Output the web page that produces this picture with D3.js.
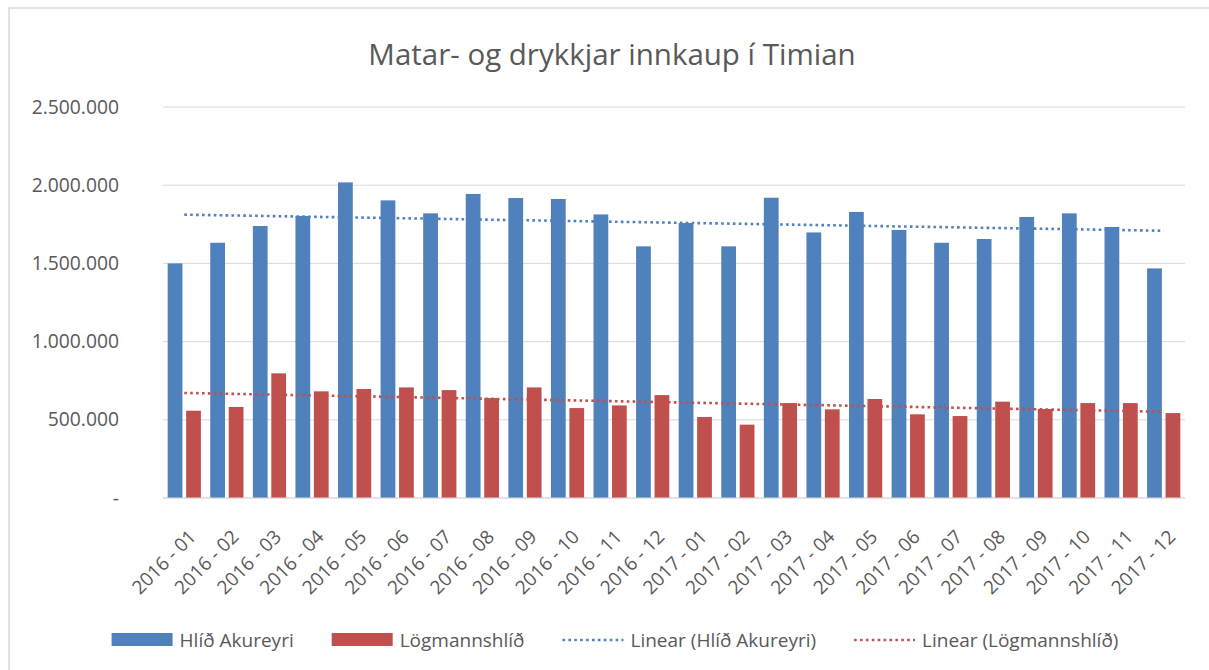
<!DOCTYPE html>
<html>
<head>
<meta charset="utf-8">
<script src="https://cdn.jsdelivr.net/npm/d3@7"></script>
<style>
  body { margin: 0; background: #fff; }
  svg { display: block; font-family: "Open Sans", sans-serif; }
</style>
</head>
<body>
<svg id="chart" width="1209" height="670"></svg>
<script>
// data
const months = ["2016 - 01","2016 - 02","2016 - 03","2016 - 04","2016 - 05","2016 - 06",
                "2016 - 07","2016 - 08","2016 - 09","2016 - 10","2016 - 11","2016 - 12",
                "2017 - 01","2017 - 02","2017 - 03","2017 - 04","2017 - 05","2017 - 06",
                "2017 - 07","2017 - 08","2017 - 09","2017 - 10","2017 - 11","2017 - 12"];
const hlidAkureyri = [1500000,1632000,1739000,1803000,2018000,1903000,1820000,1944000,1918000,1912000,1813000,1609000,
                      1758000,1609000,1920000,1698000,1829000,1714000,1632000,1656000,1797000,1820000,1733000,1468000];
const logmannshlid = [558000,582000,797000,682000,697000,707000,690000,639000,707000,575000,592000,658000,
                      518000,469000,607000,567000,633000,535000,524000,616000,569000,607000,607000,543000];
const yTicks = [0,500000,1000000,1500000,2000000,2500000];
const seriesNames = ["Hlíð Akureyri","Lögmannshlíð"];
const title = "Matar- og drykkjar innkaup í Timian";

const colors = ["#4f81bd","#c0504d"];
const textColor = "#595959";
const gridColor = "#d9d9d9";

const svg = d3.select("#chart");
const margin = {top: 107, right: 24, bottom: 172, left: 163};
const W = 1209, H = 670;
const plotW = W - margin.left - margin.right;
const plotH = H - margin.top - margin.bottom;

// chart frame (only the top and left edges show in the picture)
svg.append("rect")
    .attr("x", 9).attr("y", 8)
    .attr("width", W).attr("height", H)
    .style("fill", "none").style("stroke", gridColor).style("stroke-width", 1.5);

svg.append("text")
    .attr("x", 612).attr("y", 65)
    .attr("text-anchor", "middle")
    .style("font-size", "29.5px").style("fill", textColor)
    .text(title);

let g = svg.append("g").attr("transform", "translate(" + margin.left + "," + margin.top + ")");

let x0 = d3.scaleBand().domain(months).range([0, plotW]).paddingInner(0.22).paddingOuter(0.11);
let x1 = d3.scaleBand().domain([0, 1]).range([0, x0.bandwidth()]).paddingInner(0.2);
let y = d3.scaleLinear().domain([0, 2500000]).range([plotH, 0]);

let locale = d3.formatLocale({decimal: ",", thousands: ".", grouping: [3], currency: ["", ""]});
let fmt = locale.format(",d");

// gridlines
g.append("g").selectAll("line").data(yTicks).enter().append("line")
    .attr("x1", 0).attr("x2", plotW)
    .attr("y1", d => y(d)).attr("y2", d => y(d))
    .style("stroke", gridColor).style("stroke-width", 1);

// y axis labels
let yAxis = d3.axisLeft(y).tickValues(yTicks).tickSize(0).tickPadding(44)
    .tickFormat(d => d === 0 ? "-" : fmt(d));
let ya = g.append("g").call(yAxis);
ya.select(".domain").remove();
ya.selectAll("text").style("font-size", "19.3px").style("fill", textColor).style("font-family", "Open Sans");

// bars
let table = months.map((m, i) => ({month: m, vals: [hlidAkureyri[i], logmannshlid[i]]}));
let groups = g.selectAll(".grp").data(table).enter().append("g")
    .attr("transform", d => "translate(" + x0(d.month) + ",0)");
groups.selectAll("rect").data(d => d.vals).enter().append("rect")
    .attr("x", (d, i) => x1(i))
    .attr("y", d => y(d))
    .attr("width", x1.bandwidth())
    .attr("height", d => plotH - y(d))
    .style("fill", (d, i) => colors[i]);

// x axis line
g.append("line").attr("x1", 0).attr("x2", plotW).attr("y1", plotH).attr("y2", plotH)
    .style("stroke", gridColor).style("stroke-width", 1.2);

// linear trend lines (least squares, like Excel's trendline)
function linfit(vals) {
    let n = vals.length, mx = (n - 1) / 2, my = d3.mean(vals);
    let sxy = 0, sxx = 0;
    vals.forEach((v, i) => { sxy += (i - mx) * (v - my); sxx += (i - mx) * (i - mx); });
    let b = sxy / sxx;
    return [my - b * mx, my + b * (n - 1 - mx)];
}
let cx = m => x0(m) + x0.bandwidth() / 2;
[hlidAkureyri, logmannshlid].forEach((vals, k) => {
    let ends = linfit(vals);
    g.append("line")
        .attr("x1", cx(months[0])).attr("x2", cx(months[months.length - 1]))
        .attr("y1", y(ends[0])).attr("y2", y(ends[1]))
        .style("stroke", colors[k]).style("stroke-width", 2.6)
        .style("stroke-dasharray", "2.6,3.3");
});

// x labels, rotated
g.append("g").selectAll("text").data(months).enter().append("text")
    .attr("transform", d => "translate(" + (cx(d) + 13) + "," + (plotH + 40) + ") rotate(-45)")
    .attr("text-anchor", "end")
    .style("font-size", "19px").style("fill", textColor)
    .text(d => d);

// legend
let legendItems = [
    {label: seriesNames[0], color: colors[0], kind: "bar"},
    {label: seriesNames[1], color: colors[1], kind: "bar"},
    {label: "Linear (" + seriesNames[0] + ")", color: colors[0], kind: "line"},
    {label: "Linear (" + seriesNames[1] + ")", color: colors[1], kind: "line"}
];
let lg = svg.append("g");
let lx = 0;
legendItems.forEach(it => {
    let item = lg.append("g").attr("transform", "translate(" + lx + ",0)");
    if (it.kind === "bar") {
        item.append("rect").attr("x", 0).attr("y", -7).attr("width", 61).attr("height", 13)
            .style("fill", it.color);
    } else {
        item.append("line").attr("x1", 0).attr("x2", 61).attr("y1", 0).attr("y2", 0)
            .style("stroke", it.color).style("stroke-width", 2.6).style("stroke-dasharray", "2.6,3.3");
    }
    let t = item.append("text").attr("x", 68).attr("y", 7)
        .style("font-size", "19px").style("fill", textColor).text(it.label);
    lx += 68 + t.node().getComputedTextLength() + 38;
});
let lw = lx - 38;
lg.attr("transform", "translate(" + (615 - lw / 2) + ",640)");
</script>
</body>
</html>
